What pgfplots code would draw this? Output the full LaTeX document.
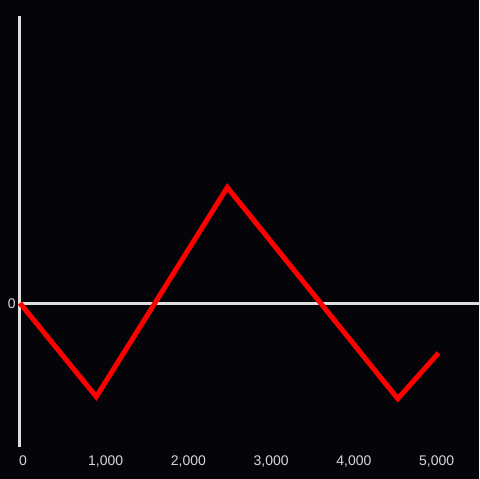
\documentclass[border=0pt]{standalone}
\usepackage{fontspec}
\setmainfont{Liberation Sans}
\usepackage{pgfplots}
\pgfplotsset{compat=1.18}
\definecolor{bg}{RGB}{5,4,8}
\definecolor{axc}{RGB}{222,222,222}
\definecolor{lab}{RGB}{215,215,215}
\begin{document}
\begin{tikzpicture}
\fill[bg] (-20pt,-32pt) rectangle (460pt,448pt);
\begin{axis}[
  at={(0,0)}, anchor=south west,
  scale only axis, width=460pt, height=432pt,
  xmin=0, xmax=5542, ymin=-145, ymax=287,
  axis line style={draw=none},
  major tick length=0pt,
  xtick={0,1000,2000,3000,4000,5000},
  ytick={0},
  /pgf/number format/assume math mode=true,
  /pgf/number format/1000 sep={,},
  tick label style={font=\fontsize{14}{16}\selectfont, text=lab},
  xticklabel style={anchor=north, inner sep=0pt, yshift=-8.5pt, xshift=3pt},
  yticklabel style={anchor=east, inner sep=0pt, xshift=-4pt, yshift=-1.5pt},
  clip=false,
]
\draw[axc, line width=3pt] (axis cs:0,-145) -- (axis cs:0,287);
\draw[axc, line width=3pt] (axis cs:0,-1) -- (axis cs:5542,-1);
\addplot[red, line width=5pt, line join=miter, line cap=butt] coordinates {
  (0,-1) (922,-95) (2506,115) (4566,-97) (5060,-51)
};
\end{axis}
\end{tikzpicture}
\end{document}
